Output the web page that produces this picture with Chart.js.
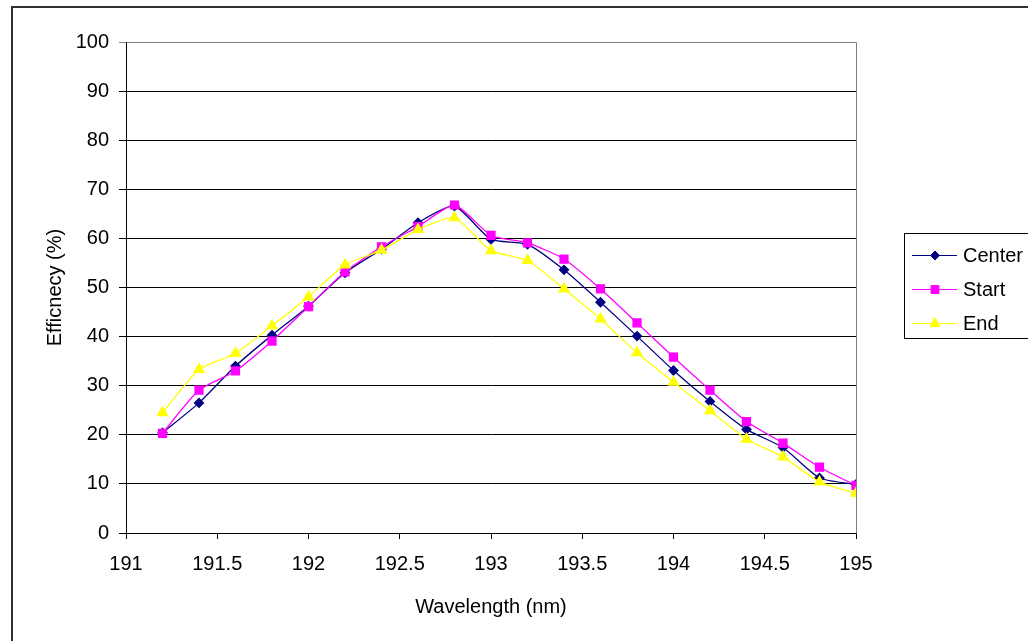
<!DOCTYPE html>
<html>
<head>
<meta charset="utf-8">
<script src="https://cdn.jsdelivr.net/npm/chart.js@4.4.1/dist/chart.umd.min.js"></script>
<style>
  html, body { margin: 0; padding: 0; background: #fff; }
  canvas { display: block; }
</style>
</head>
<body>
<canvas id="myChart" width="1028" height="641"></canvas>
<script>
// wavelength (nm) of every measured point
var wavelength = [191.2, 191.4, 191.6, 191.8, 192.0, 192.2, 192.4, 192.6, 192.8, 193.0,
                  193.2, 193.4, 193.6, 193.8, 194.0, 194.2, 194.4, 194.6, 194.8, 195.0];

// efficiency (%) per position
var center = [20.4, 26.5, 34.0, 40.3, 46.2, 53.0, 57.8, 63.2, 66.6, 59.8,
              58.8, 53.6, 47.0, 40.1, 33.1, 26.8, 21.1, 17.4, 11.2, 9.9];
var start  = [20.3, 29.1, 33.0, 39.1, 46.1, 53.2, 58.3, 62.4, 66.8, 60.6,
              59.1, 55.8, 49.7, 42.8, 35.8, 29.1, 22.7, 18.3, 13.4, 9.7];
var end    = [24.5, 33.3, 36.6, 42.2, 48.1, 54.6, 57.6, 61.8, 64.2, 57.5,
              55.5, 49.7, 43.6, 36.7, 30.7, 24.9, 19.1, 15.5, 10.4, 8.1];

var seriesNames = ['Center', 'Start', 'End'];

var colors = {
  navy: '#000080',
  magenta: '#ff00ff',
  yellow: '#ffff00'
};

function toPoints(values) {
  return wavelength.map((x, i) => {
    return { x: x, y: values[i] }
  })
}

var fontFamily = 'Arial, "Liberation Sans", sans-serif';

// white page + the outer chart frame, plot frame on top/right, and the legend box
var excelLook = {
  id: 'excelLook',
  beforeDraw(chart) {
    const c = chart.ctx;
    c.save();
    c.fillStyle = '#fff';
    c.fillRect(0, 0, chart.width, chart.height);
    c.restore();
  },
  afterDatasetsDraw(chart) {
    const c = chart.ctx;
    const a = chart.chartArea;
    c.save();
    c.strokeStyle = '#808080';
    c.lineWidth = 1;
    c.beginPath();
    c.moveTo(Math.round(a.left) + 0.5, Math.round(a.top) + 0.5);
    c.lineTo(Math.round(a.right) + 0.5, Math.round(a.top) + 0.5);
    c.lineTo(Math.round(a.right) + 0.5, Math.round(a.bottom) + 0.5);
    c.stroke();
    c.restore();
  },
  afterDraw(chart) {
    const c = chart.ctx;
    c.save();
    // outer frame (runs off the right and bottom edge like the original)
    c.strokeStyle = '#303030';
    c.lineWidth = 2;
    c.strokeRect(12, 7, 1200, 800);

    // legend
    c.strokeStyle = '#000';
    c.lineWidth = 1;
    c.strokeRect(904.5, 233.5, 200, 105);
    const rows = [255, 289, 323];
    c.font = '20px ' + fontFamily;
    c.textBaseline = 'middle';
    c.textAlign = 'left';
    chart.data.datasets.forEach((ds, i) => {
      const y = rows[i];
      c.strokeStyle = ds.borderColor;
      c.lineWidth = 1;
      c.beginPath();
      c.moveTo(912, y + 0.5);
      c.lineTo(957, y + 0.5);
      c.stroke();
      c.fillStyle = ds.pointBackgroundColor;
      c.strokeStyle = ds.pointBorderColor;
      Chart.helpers.drawPoint(c, {
        pointStyle: ds.pointStyle,
        radius: ds.pointRadius,
        rotation: 0,
        borderWidth: 1
      }, 935, y + 0.5);
      c.fillStyle = '#000';
      c.fillText(ds.label, 963, y + 1);
    });
    c.restore();
  }
};

const ctx = document.getElementById('myChart');

const chart = new Chart(ctx, {
  type: 'scatter',
  data: {
    datasets: [
      {
        label: seriesNames[0],
        data: toPoints(center),
        showLine: true,
        borderColor: colors.navy,
        borderWidth: 1.3,
        pointStyle: 'rectRot',
        pointRadius: 4.5,
        pointBackgroundColor: colors.navy,
        pointBorderColor: colors.navy,
        tension: 0.2,
        order: 2
      },
      {
        label: seriesNames[1],
        data: toPoints(start),
        showLine: true,
        borderColor: colors.magenta,
        borderWidth: 1.3,
        pointStyle: 'rect',
        pointRadius: 5.6,
        pointBackgroundColor: colors.magenta,
        pointBorderColor: colors.magenta,
        tension: 0.2,
        order: 1
      },
      {
        label: seriesNames[2],
        data: toPoints(end),
        showLine: true,
        borderColor: colors.yellow,
        borderWidth: 1.3,
        pointStyle: 'triangle',
        pointRadius: 5.8,
        pointBackgroundColor: colors.yellow,
        pointBorderColor: colors.yellow,
        tension: 0.2,
        order: 0
      }
    ]
  },
  options: {
    responsive: false,
    animation: false,
    devicePixelRatio: 1,
    layout: {
      padding: { top: 42, right: 172, bottom: 0, left: 0 }
    },
    plugins: {
      legend: { display: false },
      tooltip: { enabled: false }
    },
    scales: {
      x: {
        type: 'linear',
        min: 191,
        max: 195,
        afterFit: function (scale) {
          scale.height = 108;
        },
        ticks: {
          stepSize: 0.5,
          color: '#000',
          padding: 13,
          maxRotation: 0,
          font: { family: fontFamily, size: 20 },
          callback: function (value) {
            return String(Math.round(value * 10) / 10);
          }
        },
        grid: {
          drawOnChartArea: false,
          drawTicks: true,
          tickLength: 6,
          color: '#000'
        },
        border: { color: '#000', width: 1 },
        title: {
          display: true,
          text: 'Wavelength (nm)',
          color: '#000',
          font: { family: fontFamily, size: 20 },
          padding: { top: 0, bottom: 22 }
        }
      },
      y: {
        min: 0,
        max: 100,
        afterFit: function (scale) {
          scale.width = 126;
        },
        ticks: {
          stepSize: 10,
          color: '#000',
          padding: 10,
          font: { family: fontFamily, size: 20 }
        },
        grid: {
          drawTicks: true,
          tickLength: 7,
          color: function (context) {
            return context.tick && context.tick.value === 100 ? '#808080' : '#000';
          }
        },
        border: { color: '#000', width: 1 },
        title: {
          display: true,
          text: 'Efficnecy (%)',
          color: '#000',
          font: { family: fontFamily, size: 20 },
          padding: { top: 43, bottom: 0 }
        }
      }
    }
  },
  plugins: [excelLook]
});
</script>
</body>
</html>
